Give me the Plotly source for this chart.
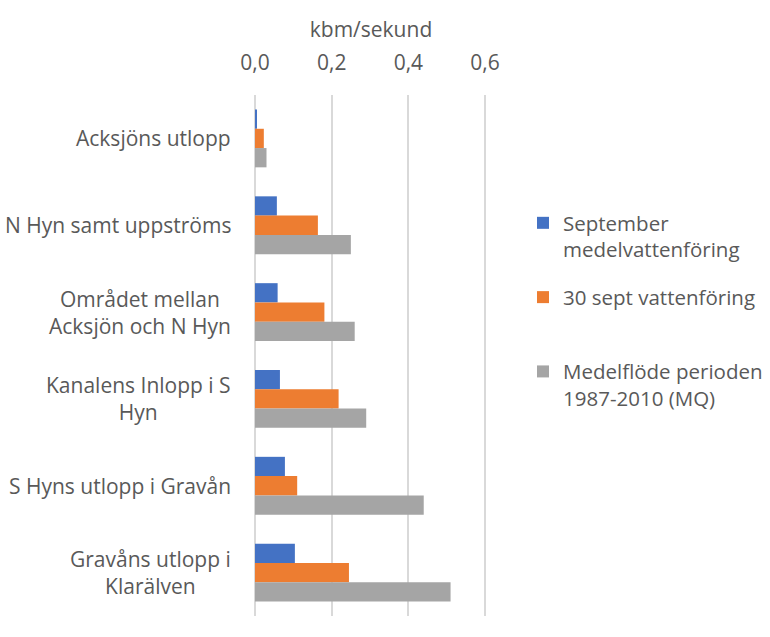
import plotly.graph_objects as go

categories = [
    "Acksjöns utlopp",
    "N Hyn samt uppströms",
    "Området mellan<br>Acksjön och N Hyn",
    "Kanalens Inlopp i S<br>Hyn",
    "S Hyns utlopp i Gravån",
    "Gravåns utlopp i<br>Klarälven",
]
series_names = [
    "September<br>medelvattenföring",
    "30 sept vattenföring<br> ",
    "Medelflöde perioden<br>1987-2010 (MQ)",
]
sept_medel = [0.004, 0.057, 0.059, 0.065, 0.078, 0.104]
sept30 = [0.023, 0.164, 0.181, 0.218, 0.110, 0.245]
mq = [0.030, 0.250, 0.260, 0.290, 0.440, 0.510]
colors = ["#4472C4", "#ED7D31", "#A5A5A5"]
x_ticks = [0.0, 0.2, 0.4, 0.6]

FONT = "Open Sans"
TXT = "#595959"
FS = 21

L, T, B = 255, 95, 21
PW = 232
R = 770 - L - PW
PH = 637 - T - B

fig = go.Figure()
for i, (name, vals, col) in enumerate(zip(series_names, [sept_medel, sept30, mq], colors)):
    fig.add_trace(go.Bar(
        y=categories, x=vals, name=name, orientation="h",
        legendgroup=f"g{i}",
        marker=dict(color=col, line=dict(width=0)),
    ))

for c in categories:
    fig.add_annotation(
        x=0, xref="paper", y=c, yref="y", text=c, showarrow=False,
        xanchor="right", align="center", xshift=-22,
        font=dict(family=FONT, size=FS, color=TXT),
    )

fig.update_layout(
    width=770, height=637,
    margin=dict(l=L, r=R, t=T, b=B, autoexpand=False),
    paper_bgcolor="white", plot_bgcolor="white",
    barmode="group", bargap=0.334, bargroupgap=0,
    separators=",.",
    font=dict(family=FONT, size=FS, color=TXT),
    showlegend=True,
    legend=dict(
        x=(523 - L) / PW, xanchor="left",
        y=(637 - B - 203) / PH, yanchor="top",
        font=dict(family=FONT, size=20.5, color=TXT),
        traceorder="grouped", itemwidth=30, tracegroupgap=18,
        valign="top",
        bgcolor="rgba(0,0,0,0)",
    ),
    xaxis=dict(
        side="top", range=[0, 0.605], tickvals=x_ticks, tickformat=".1f",
        showgrid=True, gridcolor="#D9D9D9", gridwidth=1.5,
        zeroline=True, zerolinecolor="#D9D9D9", zerolinewidth=1.5,
        showline=False, ticks="", automargin=False,
        ticklabelstandoff=20,
        title=dict(text="kbm/sekund", font=dict(family=FONT, size=FS, color=TXT), standoff=4),
        tickfont=dict(family=FONT, size=FS, color=TXT),
    ),
    yaxis=dict(
        autorange="reversed", showticklabels=False, showgrid=False,
        zeroline=False, showline=False, ticks="", automargin=False,
    ),
)

fig.write_html("out.html", config={"displayModeBar": False},
               post_script="document.body.style.margin='0';")
